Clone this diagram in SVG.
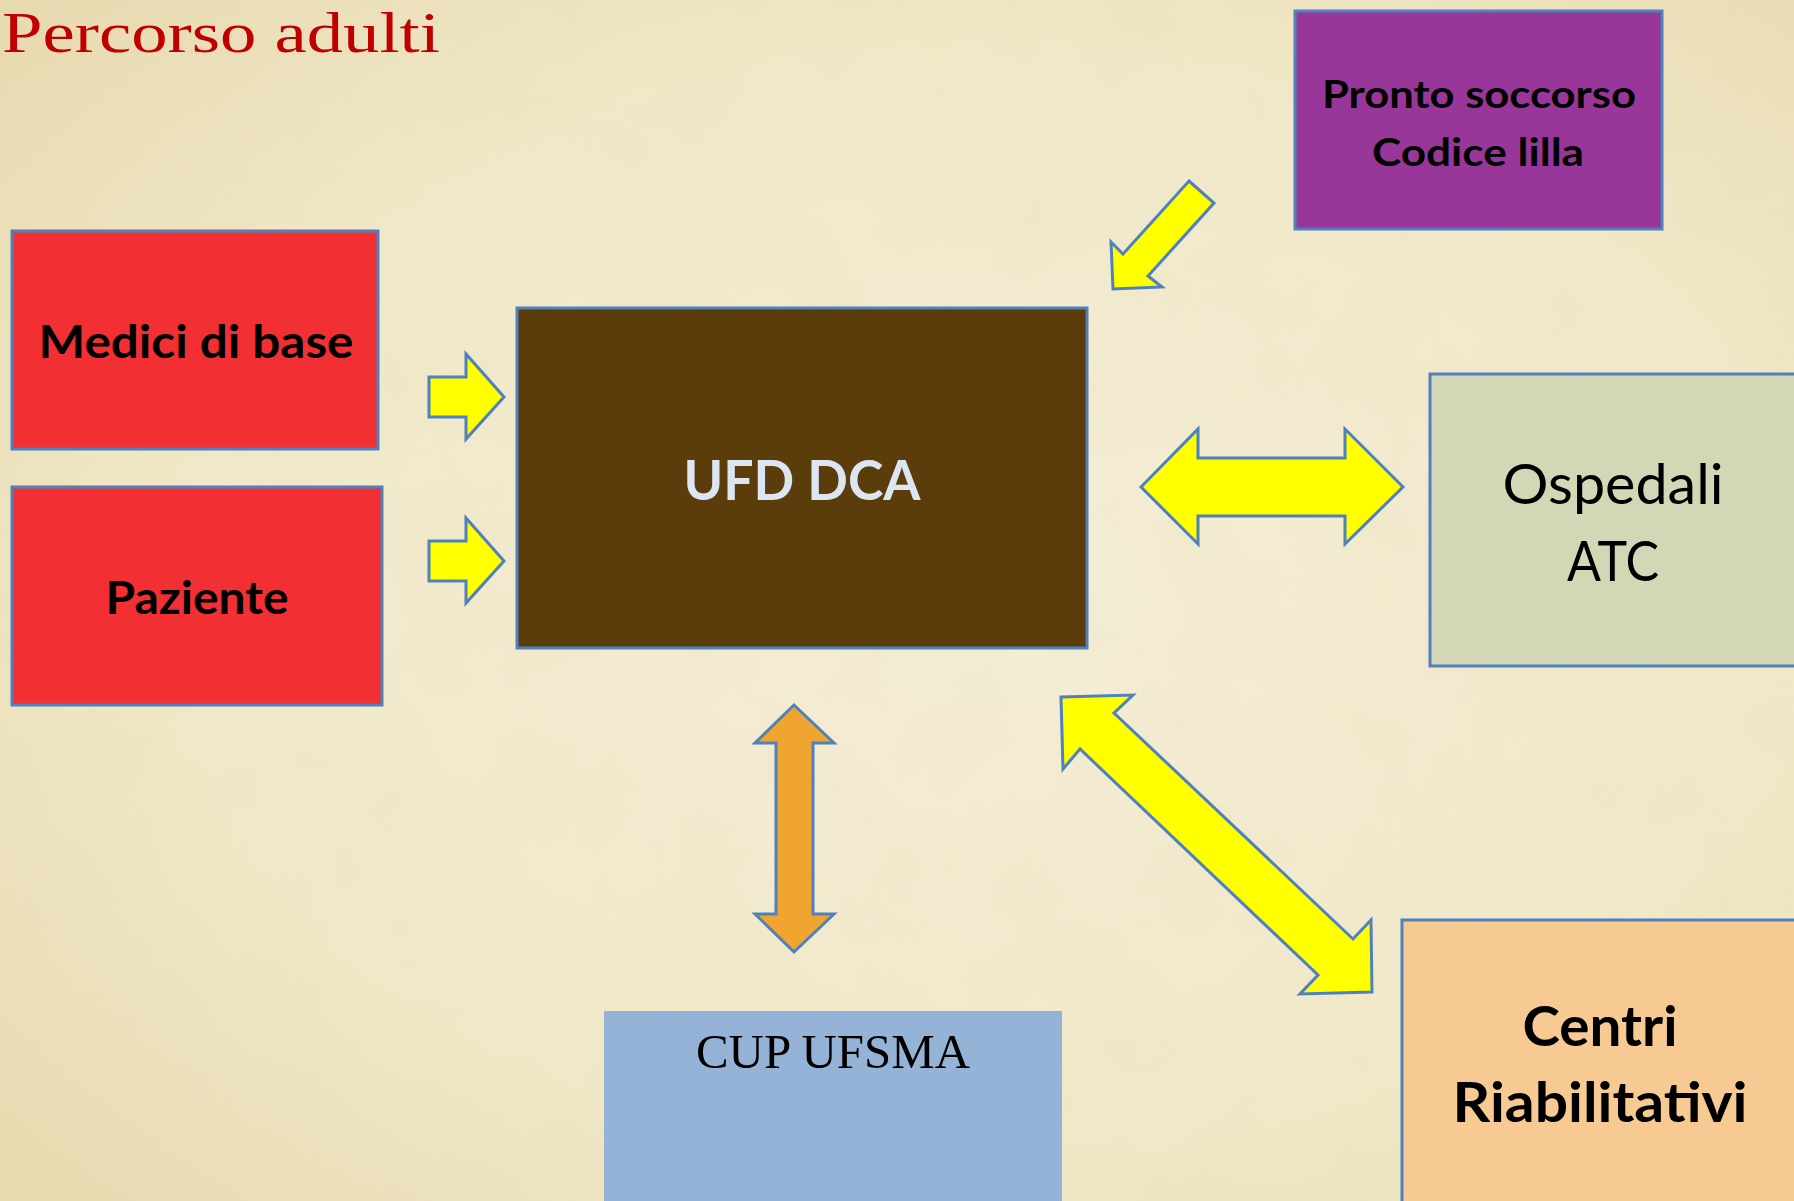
<svg xmlns="http://www.w3.org/2000/svg" width="1794" height="1201" viewBox="0 0 1794 1201">
  <defs>
    <radialGradient id="bg" cx="0.55" cy="0.5" r="0.75">
      <stop offset="0" stop-color="#f4eed6"/>
      <stop offset="0.6" stop-color="#f1e8c9"/>
      <stop offset="1" stop-color="#e7d9ae"/>
    </radialGradient>
    <filter id="grain" x="0" y="0" width="100%" height="100%">
      <feTurbulence type="fractalNoise" baseFrequency="0.012" numOctaves="4" seed="7" result="n"/>
      <feColorMatrix type="matrix" values="0 0 0 0 0.80  0 0 0 0 0.72  0 0 0 0 0.50  0 0 0 0.9 -0.35"/>
    </filter>
    <style>
      .box { stroke: #4f81bd; stroke-width: 3; }
      .arrow { stroke: #4f81bd; stroke-width: 3; stroke-linejoin: miter; }
      .yellow { fill: #ffff00; }
      .orange { fill: #efa52f; }
      .sans { font-family: Lato, "Open Sans", "Liberation Sans", sans-serif; }
      .bold { font-weight: 700; }
      .serif { font-family: "Liberation Serif", "DejaVu Serif", serif; }
    </style>
  </defs>

  <rect x="0" y="0" width="1794" height="1201" fill="url(#bg)"/>
  <rect x="0" y="0" width="1794" height="1201" filter="url(#grain)" opacity="0.45"/>

  <text id="title" x="2" y="52" class="serif" font-size="56" fill="#c00000" textLength="438" lengthAdjust="spacingAndGlyphs">Percorso adulti</text>

  <g id="medici">
    <rect class="box" x="12" y="231" width="366" height="218" fill="#f22f32"/>
    <text class="sans bold" x="196" y="358" font-size="46" text-anchor="middle" textLength="315" lengthAdjust="spacingAndGlyphs" fill="#000">Medici di base</text>
  </g>

  <g id="paziente">
    <rect class="box" x="12" y="487" width="370" height="218" fill="#f22f32"/>
    <text class="sans bold" x="197" y="614" font-size="46" text-anchor="middle" textLength="183" lengthAdjust="spacingAndGlyphs" fill="#000">Paziente</text>
  </g>

  <g id="ufd-dca">
    <rect class="box" x="517" y="308" width="570" height="340" fill="#5b3c0b"/>
    <text class="sans bold" x="802" y="500" font-size="56" text-anchor="middle" textLength="237" lengthAdjust="spacingAndGlyphs" fill="#dce6f2">UFD DCA</text>
  </g>

  <g id="pronto-soccorso">
    <rect class="box" x="1295" y="11" width="367" height="218" fill="#983799"/>
    <text class="sans bold" x="1479" y="108" font-size="39" text-anchor="middle" textLength="314" lengthAdjust="spacingAndGlyphs" fill="#000">Pronto soccorso</text>
    <text class="sans bold" x="1478" y="166" font-size="39" text-anchor="middle" textLength="212" lengthAdjust="spacingAndGlyphs" fill="#000">Codice lilla</text>
  </g>

  <g id="ospedali-atc">
    <rect class="box" x="1430" y="374" width="380" height="292" fill="#d4d7b5"/>
    <text class="sans" x="1613" y="504" font-size="57" text-anchor="middle" textLength="221" lengthAdjust="spacingAndGlyphs" fill="#000">Ospedali</text>
    <text class="sans" x="1613" y="581" font-size="57" text-anchor="middle" textLength="92" lengthAdjust="spacingAndGlyphs" fill="#000">ATC</text>
  </g>

  <g id="centri-riabilitativi">
    <rect class="box" x="1402" y="920" width="410" height="300" fill="#f6ca92"/>
    <text class="sans bold" x="1600" y="1046" font-size="56" text-anchor="middle" textLength="155" lengthAdjust="spacingAndGlyphs" fill="#000">Centri</text>
    <text class="sans bold" x="1600" y="1122" font-size="56" text-anchor="middle" textLength="295" lengthAdjust="spacingAndGlyphs" fill="#000">Riabilitativi</text>
  </g>

  <g id="cup-ufsma">
    <rect x="604" y="1011" width="458" height="200" fill="#95b3d7"/>
    <text class="serif" x="833" y="1068" font-size="49" text-anchor="middle" textLength="274" lengthAdjust="spacingAndGlyphs" fill="#000">CUP UFSMA</text>
  </g>

  <g id="connectors">
    <polygon class="arrow yellow" points="429,377 466,377 466,354 504,397 466,439 466,417 429,417"/>
    <polygon class="arrow yellow" points="429,541 466,541 466,518 504,561 466,603 466,581 429,581"/>
    <polygon class="arrow yellow" points="1189,181 1214,203 1148,276 1162,287 1113,289 1111,242 1123,254"/>
    <polygon class="arrow yellow" points="1141,487 1198,429 1198,458 1345,458 1345,429 1403,487 1345,544 1345,516 1198,516 1198,544"/>
    <polygon class="arrow orange" points="794,705 834,743 813,743 813,914 834,914 794,952 755,914 776,914 776,743 755,743"/>
    <polygon class="arrow yellow" points="1061,697 1133,695 1114,713 1353,939 1371,920 1372,992 1300,994 1318,975 1080,749 1063,769"/>
  </g>
</svg>
